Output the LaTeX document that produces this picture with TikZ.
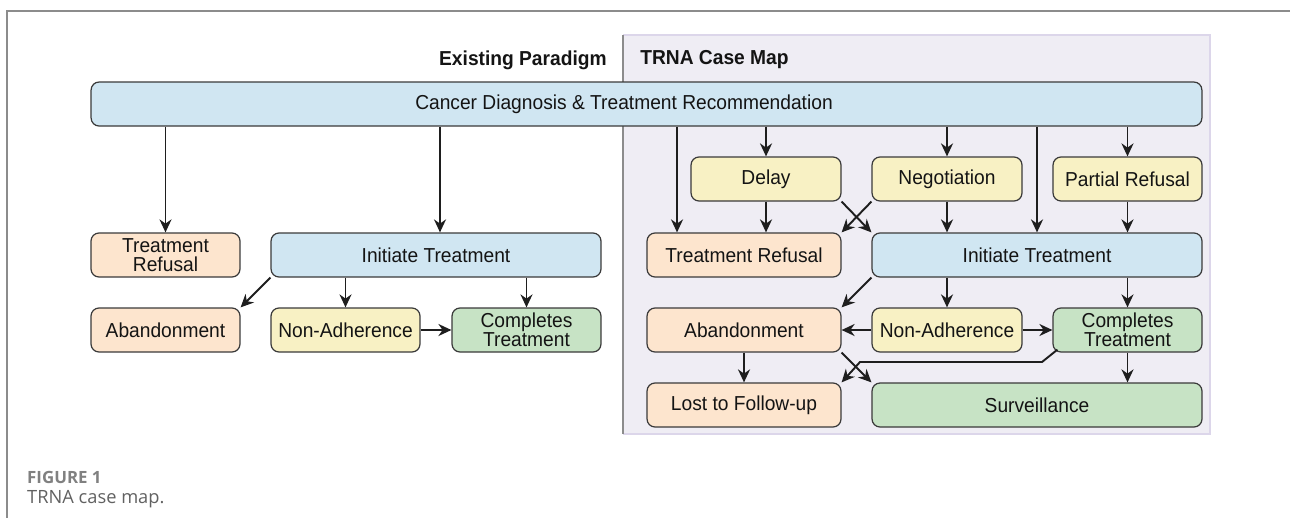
\documentclass[tikz,border=0pt]{standalone}
\usepackage{fontspec}
\setmainfont{Liberation Sans}[FakeStretch=0.95]
\newfontfamily\capfont{Open Sans}
\usetikzlibrary{arrows.meta}

\definecolor{boxblue}{HTML}{D0E6F2}
\definecolor{boxorange}{HTML}{FDE5CE}
\definecolor{boxyellow}{HTML}{F8F1C4}
\definecolor{boxgreen}{HTML}{C7E3C5}
\definecolor{boxline}{HTML}{3A3A3A}
\definecolor{arrowdark}{HTML}{1E1E1E}
\definecolor{panelfill}{HTML}{EFEDF4}
\definecolor{paneledge}{HTML}{DCD6EA}
\definecolor{framegray}{HTML}{8C8C8C}

\begin{document}
\begin{tikzpicture}[x=0.02cm,y=-0.02cm,>={Stealth[length=2.6mm,width=2.4mm]},
  box/.style={draw=boxline,line width=0.7pt,rounded corners=0.16cm,minimum height=0.88cm,
    inner sep=0pt,align=center,font=\fontsize{11.5}{10.8}\selectfont,text=black!92},
  blue/.style={box,fill=boxblue},
  orange/.style={box,fill=boxorange},
  yellow/.style={box,fill=boxyellow},
  green/.style={box,fill=boxgreen},
  flow/.style={->,line width=1.1pt,draw=arrowdark},
  header/.style={inner sep=0pt,font=\fontsize{11.5}{12}\selectfont\bfseries,text=black!92}]
\useasboundingbox (0,0) rectangle (1290,518);

% frame and case map panel
\draw[framegray,line width=0.8pt] (1290,11) -- (7,11) -- (7,518);
\fill[panelfill] (623,35) rectangle (1210,434);
\draw[paneledge,line width=0.8pt] (623,35) -- (1210,35) -- (1210,434) -- (623,434);
\draw[framegray,line width=0.8pt] (623,35) -- (623,434);

\node[header,anchor=east] (hexist) at (607,60) {Existing Paradigm};
\node[header,anchor=west] (htrna) at (640,60) {TRNA Case Map};

\node[blue,minimum width=22.22cm] (diag) at (646.5,104) {};
\node[font=\fontsize{11.5}{12}\selectfont,text=black!92] (diagtxt) at (624,104)
  {Cancer Diagnosis \& Treatment Recommendation};

% existing paradigm
\node[orange,minimum width=2.98cm] (trL) at (165.5,255) {Treatment\\Refusal};
\node[blue,minimum width=6.6cm] (itL) at (436,255) {Initiate Treatment};
\node[orange,minimum width=2.98cm] (abL) at (165.5,330) {Abandonment};
\node[yellow,minimum width=2.98cm] (naL) at (345.5,330) {Non-Adherence};
\node[green,minimum width=2.98cm] (ctL) at (526.5,330) {Completes\\Treatment};

\draw[flow] (trL.north |- diag.south) -- (trL.north);
\draw[flow] ([xshift=0.08cm]itL.north |- diag.south) -- ([xshift=0.08cm]itL.north);
\draw[flow] (itL.south west) -- (abL.north east);
\draw[flow] (naL.north |- itL.south) -- (naL.north);
\draw[flow] (ctL.north |- itL.south) -- (ctL.north);
\draw[flow] (naL.east) -- (ctL.west);

% TRNA case map
\node[yellow,minimum width=3cm] (delay) at (766,179) {Delay};
\node[yellow,minimum width=3cm] (nego) at (947,179) {Negotiation};
\node[yellow,minimum width=2.98cm] (partial) at (1127.5,179) {Partial Refusal};
\node[orange,minimum width=3.88cm] (trR) at (744,255) {Treatment Refusal};
\node[blue,minimum width=6.6cm] (itR) at (1037,255) {Initiate Treatment};
\node[orange,minimum width=3.88cm] (abR) at (744,330) {Abandonment};
\node[yellow,minimum width=3cm] (naR) at (947,330) {Non-Adherence};
\node[green,minimum width=2.98cm] (ctR) at (1127.5,330) {Completes\\Treatment};
\node[orange,minimum width=3.88cm] (lost) at (744,405) {Lost to Follow-up};
\node[green,minimum width=6.6cm] (surv) at (1037,405) {Surveillance};

\draw[flow] ([xshift=-1.34cm]trR.north |- diag.south) -- ([xshift=-1.34cm]trR.north);
\draw[flow] (delay.north |- diag.south) -- (delay.north);
\draw[flow] (nego.north |- diag.south) -- (nego.north);
\draw[flow] (itR.north |- diag.south) -- (itR.north);
\draw[flow] (partial.north |- diag.south) -- (partial.north);
\draw[flow] (delay.south) -- (delay.south |- trR.north);
\draw[flow] (delay.south east) -- (itR.north west);
\draw[flow] (nego.south west) -- (trR.north east);
\draw[flow] (nego.south) -- (nego.south |- itR.north);
\draw[flow] (partial.south) -- (partial.south |- itR.north);
\draw[flow] (itR.south west) -- (abR.north east);
\draw[flow] (naR.north |- itR.south) -- (naR.north);
\draw[flow] (ctR.north |- itR.south) -- (ctR.north);
\draw[flow] (naR.west) -- (abR.east);
\draw[flow] (naR.east) -- (ctR.west);
\draw[flow] (abR.south) -- (lost.north);
\draw[flow] (abR.south east) -- (surv.north west);
\draw[flow] ([xshift=0.1cm,yshift=0.06cm]ctR.south west) -- (1042,362) -- (860,362) -- (lost.north east);
\draw[flow] (ctR.south) -- (ctR.south |- surv.north);

% caption
\node[anchor=west,font=\capfont\fontsize{9.6}{10}\selectfont\bfseries,text=black!50] (figno) at (21,477) {FIGURE 1};
\node[anchor=west,font=\capfont\fontsize{10.4}{12}\selectfont,text=black!62] (figcap) at (21,499) {TRNA case map.};
\end{tikzpicture}
\end{document}
